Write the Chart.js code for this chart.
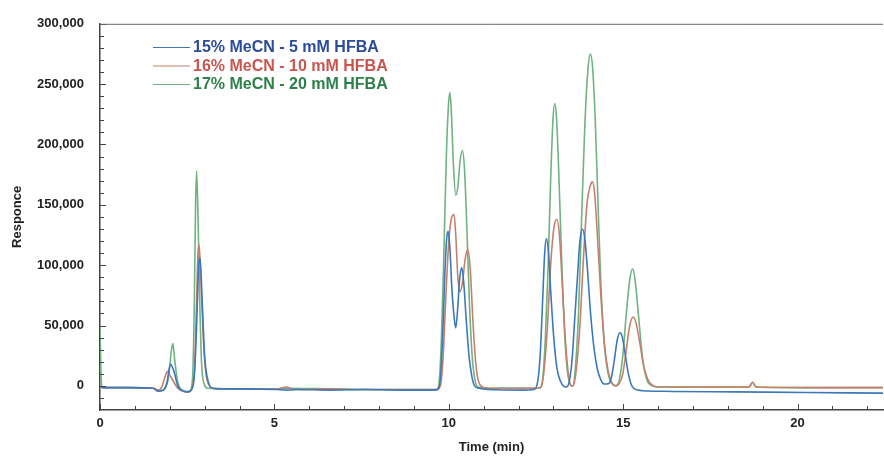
<!DOCTYPE html>
<html>
<head>
<meta charset="utf-8">
<script src="https://cdn.jsdelivr.net/npm/chart.js@4.4.1/dist/chart.umd.min.js"></script>
<style>
    html, body { margin: 0; padding: 0; background: #ffffff; }
    #chromChart { display: block; }
</style>
</head>
<body>
<canvas id="chromChart" width="884" height="459"></canvas>
<script>
// series labels (legend order)
const seriesLabels = ['15% MeCN - 5 mM HFBA', '16% MeCN - 10 mM HFBA', '17% MeCN - 20 mM HFBA'];

// axis tick values
const timeTicks = [0, 5, 10, 15, 20];
const responseTicks = [0, 50000, 100000, 150000, 200000, 250000, 300000];

// 15% MeCN - 5 mM HFBA: time (min) / response
const blueTime = [0, 0.1, 0.81, 1.52, 1.67, 1.82, 1.92, 2.02, 2.12, 2.23, 2.38, 2.53, 2.63, 2.71, 2.77, 2.83, 2.87, 2.93,
    3.0, 3.09, 3.19, 3.34, 4.05, 5.06, 5.36, 5.66, 6.57, 7.59, 8.6, 9.61, 9.71, 9.77, 9.83, 9.89, 9.94, 9.98, 10.03, 10.09,
    10.16, 10.2, 10.25, 10.31, 10.37, 10.43, 10.5, 10.58, 10.66, 10.74, 10.87, 11.13, 12.14, 12.44, 12.54, 12.62, 12.69,
    12.75, 12.8, 12.86, 12.93, 13.01, 13.1, 13.2, 13.3, 13.37, 13.45, 13.53, 13.61, 13.7, 13.76, 13.83, 13.9, 13.98, 14.06,
    14.16, 14.26, 14.36, 14.46, 14.59, 14.67, 14.75, 14.83, 14.91, 14.97, 15.05, 15.13, 15.22, 15.32, 15.58, 16.18, 18.2,
    20.23, 22.5];
const blueResp = [-1000, -1500, -1500, -2000, -4500, -3500, 3000, 18000, 12000, 0, -4000, -5000, -3000, 10000, 50000, 100000,
    106000, 70000, 25000, 5000, -1500, -2500, -2500, -3000, -3500, -3000, -3500, -3000, -3500, -3500, -2000, 10000, 45000,
    95000, 122000, 128000, 115000, 80000, 55000, 48000, 62000, 88000, 98000, 85000, 55000, 25000, 8000, 0, -2000, -3000,
    -3500, -3000, 2000, 25000, 70000, 110000, 122000, 110000, 75000, 40000, 15000, 4000, -500, -1000, 3000, 20000, 55000,
    95000, 120000, 130000, 122000, 95000, 62000, 32000, 14000, 5000, 1500, 2000, 8000, 22000, 38000, 44000, 41000, 28000,
    13000, 2000, -2500, -4000, -4500, -5000, -5500, -6000];

// 16% MeCN - 10 mM HFBA
const redTime = [0, 0.1, 0.81, 1.52, 1.67, 1.77, 1.87, 1.94, 2.02, 2.12, 2.23, 2.38, 2.53, 2.63, 2.71, 2.76, 2.81, 2.84,
    2.89, 2.96, 3.03, 3.14, 3.24, 4.05, 5.06, 5.36, 5.51, 6.57, 7.59, 8.6, 9.66, 9.76, 9.83, 9.91, 9.99, 10.07, 10.15, 10.2,
    10.26, 10.32, 10.39, 10.47, 10.55, 10.62, 10.69, 10.77, 10.84, 10.92, 11.13, 12.14, 12.54, 12.66, 12.74, 12.83, 12.91,
    13.01, 13.1, 13.18, 13.27, 13.35, 13.43, 13.51, 13.57, 13.65, 13.76, 13.86, 13.96, 14.06, 14.12, 14.18, 14.26, 14.36,
    14.46, 14.57, 14.67, 14.79, 14.89, 14.99, 15.09, 15.19, 15.29, 15.37, 15.48, 15.6, 15.73, 15.88, 16.03, 17.2, 18.61,
    18.71, 18.81, 20.23, 22.5];
const redResp = [0, -1500, -1500, -2000, -3500, -1000, 8000, 12000, 8000, 3000, -2000, -4500, -5000, -2500, 15000, 60000,
    110000, 117000, 90000, 40000, 12000, 0, -2000, -2500, -2500, -1000, -3000, -2500, -3000, -3000, -3000, 0, 20000, 70000,
    115000, 138000, 142000, 125000, 90000, 78000, 85000, 105000, 113000, 95000, 55000, 20000, 5000, 0, -2000, -2000, -2000,
    0, 15000, 50000, 95000, 130000, 138000, 122000, 75000, 35000, 10000, 0, 0, 12000, 50000, 105000, 150000, 166000, 169000,
    160000, 125000, 75000, 35000, 12000, 3000, 0, 2000, 10000, 30000, 50000, 57000, 52000, 35000, 15000, 4000, 0, -1000,
    -1000, -1000, 3000, -1000, -1500, -1500];

// 17% MeCN - 20 mM HFBA
const greenTime = [0, 0.03, 0.06, 0.81, 1.52, 1.72, 1.87, 1.97, 2.05, 2.09, 2.14, 2.23, 2.33, 2.48, 2.58, 2.65, 2.7, 2.74,
    2.77, 2.81, 2.86, 2.91, 2.98, 3.09, 4.05, 5.06, 5.36, 6.57, 7.59, 8.6, 9.66, 9.73, 9.79, 9.86, 9.93, 9.99, 10.03, 10.07,
    10.13, 10.2, 10.26, 10.32, 10.39, 10.45, 10.52, 10.59, 10.67, 10.75, 10.84, 11.13, 12.14, 12.59, 12.69, 12.77, 12.85,
    12.92, 12.99, 13.04, 13.09, 13.15, 13.23, 13.31, 13.39, 13.47, 13.55, 13.63, 13.72, 13.81, 13.9, 13.99, 14.06, 14.12,
    14.2, 14.28, 14.36, 14.46, 14.57, 14.67, 14.79, 14.89, 14.99, 15.09, 15.19, 15.27, 15.34, 15.45, 15.56, 15.68, 15.83,
    15.98, 17.2, 18.61, 18.71, 18.81, 20.23, 22.5];
const greenResp = [48000, 10000, -1500, -1500, -2000, -4000, -2000, 8000, 30000, 35000, 22000, 3000, -3000, -5000, -4000,
    5000, 60000, 150000, 178000, 140000, 70000, 20000, 2000, -2000, -2500, -2500, -2000, -2500, -3000, -3000, -3000, 5000,
    40000, 110000, 190000, 232000, 243000, 230000, 185000, 158000, 165000, 185000, 195000, 180000, 130000, 70000, 25000,
    5000, -1000, -2000, -2000, -2000, 5000, 40000, 100000, 170000, 222000, 234000, 222000, 180000, 110000, 50000, 15000,
    2000, 0, 15000, 60000, 140000, 215000, 262000, 275000, 265000, 220000, 150000, 85000, 35000, 10000, 2000, 0, 5000,
    25000, 60000, 88000, 97000, 88000, 55000, 22000, 5000, 0, -1000, -1000, -1000, 3000, -1000, -1500, -1500];

const lineColours = ['#3d79b9', '#c5806d', '#70b282'];
const legendColours = ['#2b4c9b', '#c9554f', '#2e8049'];
const axisColour = '#444444';
const fontFamily = '"Liberation Sans", Arial, sans-serif';

function toPoints(times, values) {
    return times.map((t, i) => ({ x: t, y: values[i] }));
}

const frameAndLegend = {
    id: 'frameAndLegend',
    afterDraw(chart) {
        const { ctx, chartArea: area, scales: { x, y } } = chart;
        ctx.save();
        ctx.strokeStyle = axisColour;
        ctx.lineWidth = 1;
        ctx.beginPath();
        // inward tick marks, minor every minute / every 10,000
        for (let t = 0; t <= x.max; t += 1) {
            const px = Math.round(x.getPixelForValue(t)) + 0.5;
            const len = t % 5 === 0 ? 6 : 4;
            ctx.moveTo(px, area.bottom);
            ctx.lineTo(px, area.bottom - len);
        }
        for (let v = -10000; v <= y.max; v += 10000) {
            const py = Math.round(y.getPixelForValue(v)) + 0.5;
            const len = v % 50000 === 0 ? 6 : 4;
            ctx.moveTo(area.left, py);
            ctx.lineTo(area.left + len, py);
        }
        ctx.stroke();

        // top frame line
        ctx.strokeStyle = '#666666';
        ctx.beginPath();
        ctx.moveTo(area.left, area.top + 0.5);
        ctx.lineTo(area.right, area.top + 0.5);
        ctx.stroke();

        // legend
        ctx.font = 'bold 16px ' + fontFamily;
        ctx.textBaseline = 'middle';
        ctx.textAlign = 'left';
        chart.data.datasets.forEach((ds, i) => {
            const rowY = 47 + i * 18.5;
            ctx.strokeStyle = ds.borderColor;
            ctx.lineWidth = 1.2;
            ctx.beginPath();
            ctx.moveTo(153, rowY + 0.5);
            ctx.lineTo(190, rowY + 0.5);
            ctx.stroke();
            ctx.fillStyle = legendColours[i];
            ctx.fillText(ds.label, 193, rowY + 1);
        });
        ctx.restore();
    }
};

document.addEventListener('DOMContentLoaded', function() {
    const chromCtx = document.getElementById('chromChart').getContext('2d');
    new Chart(chromCtx, {
        type: 'line',
        data: {
            datasets: [
                { label: seriesLabels[0], data: toPoints(blueTime, blueResp), borderColor: lineColours[0] },
                { label: seriesLabels[1], data: toPoints(redTime, redResp), borderColor: lineColours[1] },
                { label: seriesLabels[2], data: toPoints(greenTime, greenResp), borderColor: lineColours[2] }
            ]
        },
        options: {
            responsive: false,
            animation: false,
            layout: {
                padding: { top: 19, right: 1, bottom: 0, left: 0 }
            },
            elements: {
                point: { radius: 0 },
                line: { borderWidth: 1.6, cubicInterpolationMode: 'monotone', fill: false }
            },
            plugins: {
                legend: { display: false },
                tooltip: { enabled: false }
            },
            scales: {
                x: {
                    type: 'linear',
                    min: 0,
                    max: 22.45,
                    afterFit(scale) { scale.height = 49; },
                    afterBuildTicks(scale) { scale.ticks = timeTicks.map(v => ({ value: v })); },
                    grid: { drawOnChartArea: false, drawTicks: false },
                    border: { color: axisColour, width: 1.5 },
                    ticks: {
                        padding: 6,
                        color: '#222222',
                        font: { family: fontFamily, size: 13, weight: 'bold' }
                    },
                    title: {
                        display: true,
                        text: 'Time (min)',
                        color: '#222222',
                        padding: { top: 0, bottom: 4 },
                        font: { family: fontFamily, size: 13, weight: 'bold' }
                    }
                },
                y: {
                    min: -20000,
                    max: 300000,
                    afterFit(scale) { scale.width = 100; },
                    afterBuildTicks(scale) { scale.ticks = responseTicks.map(v => ({ value: v })); },
                    grid: { drawOnChartArea: false, drawTicks: false },
                    border: { color: axisColour, width: 1.5 },
                    ticks: {
                        padding: 16,
                        color: '#222222',
                        font: { family: fontFamily, size: 13, weight: 'bold' },
                        callback: value => value.toLocaleString('en-US')
                    },
                    title: {
                        display: true,
                        text: 'Responce',
                        color: '#222222',
                        padding: { top: 10, bottom: 0 },
                        font: { family: fontFamily, size: 13, weight: 'bold' }
                    }
                }
            }
        },
        plugins: [frameAndLegend]
    });
});
</script>
</body>
</html>
